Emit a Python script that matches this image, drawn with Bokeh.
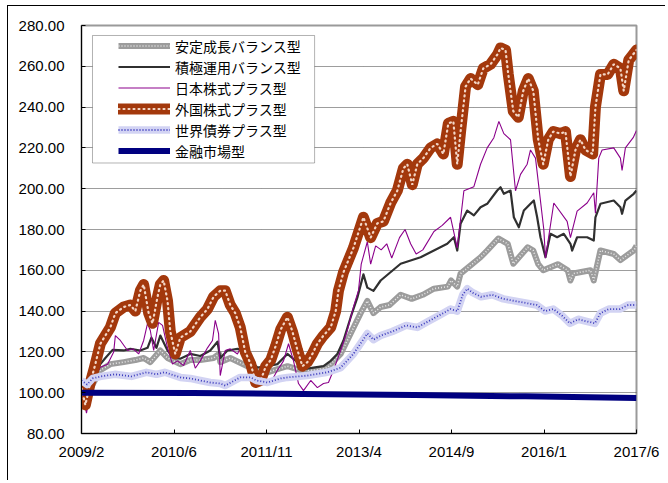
from bokeh.plotting import figure
from bokeh.models import (Legend, LegendItem, FixedTicker, NumeralTickFormatter,
                          CustomJSTickFormatter, BoxAnnotation, Range1d)
from bokeh.embed import file_html
from bokeh.resources import INLINE

# x = months since 2009/2
x_tick_labels = ["2009/2", "2010/6", "2011/11", "2013/4", "2014/9", "2016/1", "2017/6"]
y_ticks = [80, 100, 120, 140, 160, 180, 200, 220, 240, 260, 280]

series_names = ["安定成長バランス型", "積極運用バランス型", "日本株式プラス型",
                "外国株式プラス型", "世界債券プラス型", "金融市場型"]

stable = [(0, 100), (1, 99), (2, 104), (3.4, 111), (5.2, 114), (7.6, 115), (9.7, 116),
          (11.2, 117), (12.4, 115), (14.2, 120.7), (15.5, 117), (17.8, 114), (19.6, 116),
          (21.4, 116), (23.8, 117), (24.8, 119), (25.0, 115), (26.8, 117), (29.9, 113),
          (31.7, 110), (33.5, 110), (35.9, 112), (37.1, 113), (39.6, 111), (41.8, 111),
          (44.3, 112.3), (46.7, 119), (48.5, 129), (50.3, 139), (51.5, 145), (52.6, 139),
          (53.9, 142), (55.5, 143), (57.5, 148), (59.5, 146), (61.5, 148), (63.5, 151),
          (66.0, 152), (66.6, 155), (67.7, 152), (68.3, 158.4), (71.9, 166.4), (73.1, 169.7),
          (75.1, 175.6), (76.8, 173), (77.8, 163.2), (80.4, 171.3), (81.4, 169.7),
          (82.3, 163), (83.2, 160), (85.8, 163), (87.6, 160), (88.1, 155), (88.6, 158.4),
          (91.7, 160), (92.3, 155), (93.5, 169.7), (95.9, 168), (97.1, 165), (99.5, 169.7),
          (100, 172)]

active = [(0, 100), (0.8, 96), (1.7, 103), (2.5, 108), (3.4, 114), (4.3, 117), (5.6, 121),
          (7.6, 120.7), (8.8, 121.5), (10.6, 120.7), (11.9, 122), (12.6, 127), (13.5, 122),
          (14.2, 128), (15.5, 120.7), (16.6, 117), (17.8, 116.7), (19.6, 119), (21.4, 118),
          (23.2, 120.7), (24.5, 125), (25.0, 117), (26.3, 120.7), (28.1, 121.5),
          (29.2, 120.7), (30.5, 115.6), (31.7, 112.3), (33.5, 113), (35.3, 114), (37.1, 119),
          (38.9, 115), (40.0, 111.5), (41.8, 112.3), (43.6, 113), (44.9, 115.6), (46.1, 119),
          (47.2, 125.6), (48.5, 137), (49.7, 146.6), (50.8, 158), (51.5, 151.5),
          (52.6, 149.9), (53.9, 155), (57.5, 163.2), (61.1, 166.4), (63.5, 169.7),
          (65.9, 173), (67.1, 176.2), (67.7, 169.7), (68.3, 182.8), (69.5, 189.3),
          (70.7, 186.9), (71.9, 190.9), (73.1, 192.6), (74.9, 199.1), (75.5, 200.7),
          (76.1, 197.5), (77.3, 199.1), (77.9, 186), (78.8, 181.1), (79.7, 189.3),
          (80.9, 192.6), (81.5, 194.2), (82.1, 186), (82.7, 176.2), (83.6, 166.4),
          (84.5, 177.9), (85.7, 176.2), (86.9, 177.9), (88.1, 173), (88.4, 169.7),
          (89.3, 176.2), (91.1, 176.2), (92.3, 174.6), (92.6, 186), (93.5, 192.6),
          (95.9, 194.2), (97.1, 190.9), (97.4, 187.7), (98.0, 194.2), (99.5, 197.5),
          (100, 199.1)]

japan = [(0, 100), (0.3, 98), (0.9, 90), (1.5, 99), (2.2, 107), (3.4, 112.5), (4.7, 114),
         (5.8, 120), (6.1, 128), (7.0, 125.6), (8.3, 120.7), (9.3, 121.5), (10.3, 119),
         (11.2, 125.6), (11.9, 134), (12.4, 130.5), (13.0, 120.7), (13.9, 134.5),
         (14.6, 133), (15.5, 122), (16.4, 114), (17.3, 115.6), (18.4, 113.3), (19.6, 120.7),
         (20.5, 112), (21.4, 115.6), (22.7, 122), (23.6, 125.6), (24.1, 135.5), (24.7, 129),
         (25.0, 108.4), (25.9, 120.7), (26.8, 121.5), (28.1, 119), (29.0, 124), (29.5, 119),
         (30.5, 111), (31.7, 105), (32.8, 107), (34.1, 105), (35.3, 111), (36.4, 115.6),
         (37.3, 124), (38.2, 115.6), (39.1, 104.5), (40.0, 101), (41.3, 106), (42.5, 102.5),
         (43.6, 104.5), (44.5, 105), (45.4, 111), (46.7, 120.7), (47.9, 130.5), (49.0, 142),
         (49.9, 150), (50.4, 163), (51.5, 174), (52.1, 163), (53.0, 172), (54.0, 170),
         (55.0, 173), (55.9, 166), (57.3, 176), (58.3, 180), (59.3, 173), (60.3, 168),
         (61.5, 170), (63.5, 179), (65.0, 182), (66.5, 186), (67.7, 171), (68.9, 199),
         (70.7, 201), (71.9, 212), (73.1, 220), (74.3, 225), (75.2, 233), (76.1, 227),
         (77.3, 224), (78.2, 199), (79.1, 207), (80.3, 212), (80.9, 219), (81.8, 215),
         (82.4, 201), (83.3, 180), (83.6, 166), (85.1, 193), (87.5, 184), (88.1, 176),
         (89.3, 189), (91.1, 193), (92.3, 198), (92.6, 188), (93.2, 215), (93.8, 219),
         (95.9, 220), (97.1, 215), (97.4, 209), (98.0, 220), (99.4, 225), (100, 228.5)]

foreign = [(0, 102), (0.7, 94), (1.5, 104), (2.3, 112), (3.4, 124), (5.2, 132), (6.1, 139),
           (7.6, 142), (8.8, 143), (9.7, 140), (10.6, 150), (11.2, 153), (12.1, 139),
           (12.8, 134), (13.7, 147), (14.2, 153), (14.8, 155), (15.5, 145), (16.0, 130),
           (16.9, 119), (17.8, 127), (19.6, 130), (21.4, 137), (22.7, 141), (23.8, 147),
           (25.0, 150), (25.9, 150), (26.8, 143), (27.7, 139), (28.6, 132), (29.5, 120),
           (30.5, 114), (31.4, 105), (32.3, 106), (33.2, 113), (34.1, 116), (35.0, 123),
           (35.9, 131), (37.1, 137), (38.0, 130), (38.9, 121), (39.8, 113), (40.7, 115),
           (41.6, 119), (42.5, 124), (43.6, 128), (44.9, 132), (45.8, 140), (46.3, 150),
           (47.2, 159), (49.0, 171), (50.8, 186), (52.1, 176), (53.3, 183), (54.4, 184),
           (55.7, 193), (56.9, 199), (58.0, 210), (58.7, 212), (59.6, 202), (60.5, 212),
           (61.6, 215), (62.9, 220), (64.1, 222), (65.2, 217), (66.1, 232), (67.0, 233),
           (67.7, 212), (68.3, 228), (69.2, 250), (70.1, 254), (71.4, 251), (72.4, 259),
           (73.7, 261), (75.0, 266), (75.5, 269), (76.4, 268), (76.9, 256), (77.8, 238),
           (78.7, 235), (79.6, 248), (80.5, 254), (81.4, 248), (82.3, 224), (83.2, 212),
           (84.1, 224), (85.0, 228), (86.3, 227), (87.2, 228), (88.1, 206), (89.0, 219),
           (89.9, 224), (90.8, 219), (92.1, 217), (92.6, 240), (93.5, 256), (94.8, 256),
           (95.9, 261), (97.1, 259), (97.7, 248), (98.6, 263), (100, 268)]

bonds = [(0, 106), (1, 104), (2, 107), (3.5, 108), (6, 109), (9, 108), (11.7, 110),
         (13.5, 109), (15, 110), (17.8, 107.5), (19.6, 107), (21.4, 106), (23.2, 105),
         (25, 104.5), (25.9, 103.5), (28.6, 107.5), (30.5, 107.5), (31.5, 106), (33.5, 105),
         (35.9, 107), (37.1, 107.5), (40.7, 108.4), (44.3, 110), (46.7, 112.3), (49.0, 119),
         (51.5, 129), (52.6, 126), (53.9, 128), (56, 130), (58.5, 133), (60.5, 132),
         (62.5, 135), (64.5, 138), (66.5, 141), (67.7, 140), (68.7, 148), (69.5, 151),
         (70.5, 149), (72, 147), (74, 148), (76, 146), (78, 145), (80, 144), (82, 143),
         (83.5, 140), (85, 141), (86.5, 138), (88, 134), (89.5, 136), (91, 135),
         (92.5, 134), (93.5, 139), (95, 141), (97, 141), (98.5, 143), (100, 143)]

money = [(0, 100), (20, 99.8), (40, 99.4), (60, 98.9), (80, 98.2), (100, 97.4)]


def xs(s):
    return [a for a, _ in s]


def ys(s):
    return [b for _, b in s]


p = figure(width=658, height=475, output_backend="svg", toolbar_location=None,
           x_range=Range1d(0, 100), y_range=Range1d(80, 280),
           min_border_left=73, min_border_right=30, min_border_top=19, min_border_bottom=48)
p.styles = {"margin-left": "7px", "margin-top": "5px",
            "border-left": "1px solid #000", "border-top": "1px solid #000"}
p.background_fill_color = "white"
p.border_fill_color = "white"
p.outline_line_color = "#9a9a9a"
p.outline_line_width = 2

# axes
p.xaxis.ticker = FixedTicker(ticks=[i * 100 / 6 for i in range(7)])
p.xaxis.formatter = CustomJSTickFormatter(args=dict(labels=x_tick_labels),
                                          code="return labels[Math.round(tick*6/100)];")
p.yaxis.ticker = FixedTicker(ticks=y_ticks)
p.yaxis.formatter = NumeralTickFormatter(format="0.00")
for ax in (p.xaxis[0], p.yaxis[0]):
    ax.axis_line_color = "black"
    ax.axis_line_width = 1
    ax.major_tick_in = 4
    ax.major_tick_out = 0
    ax.major_tick_line_color = "black"
    ax.minor_tick_line_color = None
    ax.major_label_text_font = "Liberation Sans"
    ax.major_label_text_font_size = "15px"
    ax.major_label_text_color = "black"
p.xaxis.major_label_standoff = 9
p.yaxis.major_label_standoff = 17

p.xgrid.grid_line_color = None
p.ygrid.ticker = FixedTicker(ticks=y_ticks[1:-1])
p.ygrid.grid_line_color = "#3a3a3a"
p.ygrid.grid_line_dash = "1 1"
p.ygrid.grid_line_width = 1

# series
r_st1 = p.line(xs(stable), ys(stable), line_color="#9c9c9c", line_width=6, line_join="round")
r_st2 = p.line(xs(stable), ys(stable), line_color="#e8e8e8", line_width=1.6, line_dash="1 2")
r_ac = p.line(xs(active), ys(active), line_color="#303030", line_width=2.2, line_join="round")
r_jp = p.line(xs(japan), ys(japan), line_color="#8b008b", line_width=1.1)
r_fo1 = p.line(xs(foreign), ys(foreign), line_color="#a3380c", line_width=11,
               line_join="round", line_cap="round")
r_fo2 = p.line(xs(foreign), ys(foreign), line_color="#f3d6c6", line_width=2.2,
               line_dash="1 4", line_cap="round")
r_bd1 = p.line(xs(bonds), ys(bonds), line_color="#d2d3f3", line_width=7.5, line_join="round")
r_bd2 = p.line(xs(bonds), ys(bonds), line_color="#3b3bbd", line_width=1.8, line_dash="1 2")
r_mm = p.line(xs(money), ys(money), line_color="#000080", line_width=6)

box = BoxAnnotation(left=1.98, right=42.0, top=275.1, bottom=212.6,
                    fill_color="white", fill_alpha=1.0,
                    line_color="black", line_width=1)
p.add_layout(box)

legend = Legend(items=[
    LegendItem(label=series_names[0], renderers=[r_st1, r_st2]),
    LegendItem(label=series_names[1], renderers=[r_ac]),
    LegendItem(label=series_names[2], renderers=[r_jp]),
    LegendItem(label=series_names[3], renderers=[r_fo1, r_fo2]),
    LegendItem(label=series_names[4], renderers=[r_bd1, r_bd2]),
    LegendItem(label=series_names[5], renderers=[r_mm]),
], location=(37, 272), padding=0, spacing=0, margin=0,
    glyph_width=52, glyph_height=21, label_height=21, label_standoff=5,
    label_text_font="Noto Sans CJK JP", label_text_font_size="14px",
    label_text_color="black", border_line_alpha=0, background_fill_alpha=0)
p.add_layout(legend)

open("out.html", "w").write(file_html(p, INLINE))
